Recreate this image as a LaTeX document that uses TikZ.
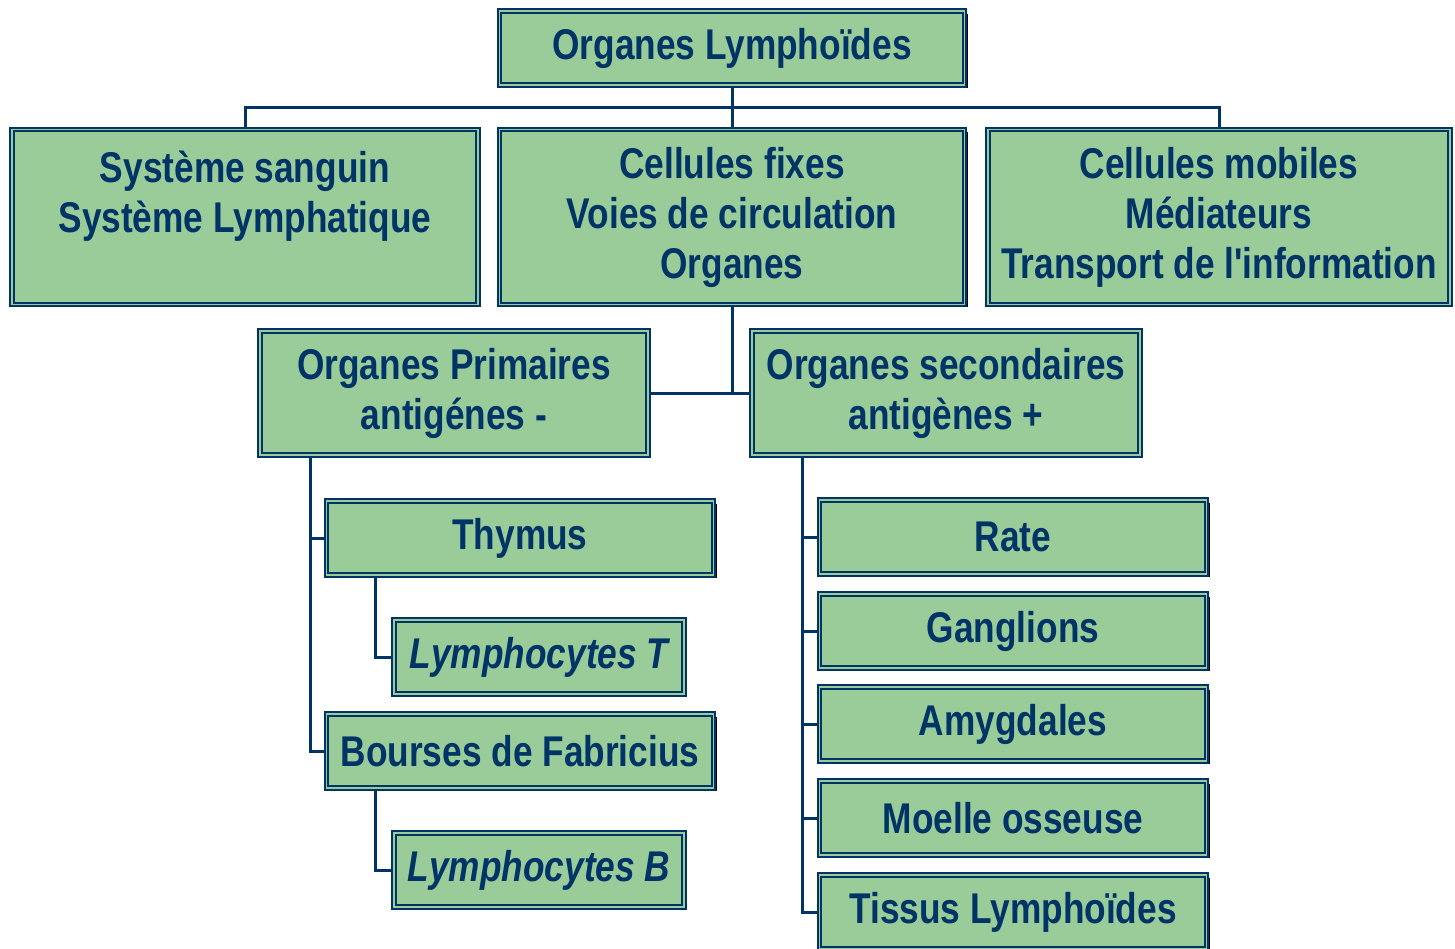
\documentclass[tikz,border=0pt]{standalone}
\usepackage{fontspec}
\setmainfont{Liberation Sans}[FakeStretch=0.82, Ligatures=TeXOff]
\usetikzlibrary{positioning,shadows}
\definecolor{navy}{HTML}{003366}
\definecolor{boxgreen}{HTML}{99CC99}

\begin{document}
\begin{tikzpicture}[
  x=1pt, y=-1pt,
  box/.style={draw=navy, line width=2pt, double=boxgreen, double distance=1.5pt,
    fill=boxgreen, text=navy, align=center, inner sep=2pt,
    minimum width=#1, minimum height=74pt,
    drop shadow={shadow xshift=3pt, shadow yshift=-3pt, fill=black, opacity=1}},
  box/.default=387pt,
  link/.style={draw=navy, line width=3pt},
  every node/.style={font=\fontsize{43}{50}\selectfont\bfseries}
]
\useasboundingbox (0,0) rectangle (1455,949);

% top
\node[box=465pt] (title) at (732,48) {Organes Lymphoïdes};

% second row
\node[box=466pt, minimum height=175pt] (sang) at (245,217) {Système sanguin\\Système Lymphatique\\\mbox{}};
\node[box=465pt, minimum height=175pt] (fixes) at (732,217) {Cellules fixes\\Voies de circulation\\Organes};
\node[box=462pt, minimum height=175pt] (mobiles) at (1219,217) {Cellules mobiles\\Médiateurs\\Transport de l'information};

% organes
\node[box=388pt, minimum height=124pt] (prim) at (454,393) {Organes Primaires\\antigénes -};
\node[box=388pt, minimum height=124pt] (sec) at (946,393) {Organes secondaires\\antigènes +};

% primaires
\node[box] (thymus) at (520,538) {Thymus};
\node[box=290pt] (lymT) at (539,657) {\itshape Lymphocytes T};
\node[box] (bourse) at (520,751) {Bourses de Fabricius};
\node[box=290pt] (lymB) at (539,870) {\itshape Lymphocytes B};

% secondaires
\node[box] (rate) at (1013,537) {Rate};
\node[box] (gangl) at (1013,631) {Ganglions};
\node[box] (amyg) at (1013,724) {Amygdales};
\node[box] (moelle) at (1013,818) {Moelle osseuse};
\node[box] (tissus) at (1013,912) {Tissus Lymphoïdes};

% connectors
\coordinate (bus) at (732,108);
\draw[link] (title.south) -- (bus) -- (fixes.north);
\draw[link] (sang.north) |- (bus) -| (mobiles.north);
\draw[link] (fixes.south) |- (prim.east);
\draw[link] (fixes.south) |- (sec.west);
\draw[link] ([xshift=51pt]prim.south west) |- (thymus.west);
\draw[link] ([xshift=51pt]prim.south west) |- (bourse.west);
\draw[link] ([xshift=50pt]thymus.south west) |- (lymT.west);
\draw[link] ([xshift=50pt]bourse.south west) |- (lymB.west);
\foreach \n in {rate,gangl,amyg,moelle,tissus}
  \draw[link] ([xshift=51pt]sec.south west) |- (\n.west);
\end{tikzpicture}
\end{document}
